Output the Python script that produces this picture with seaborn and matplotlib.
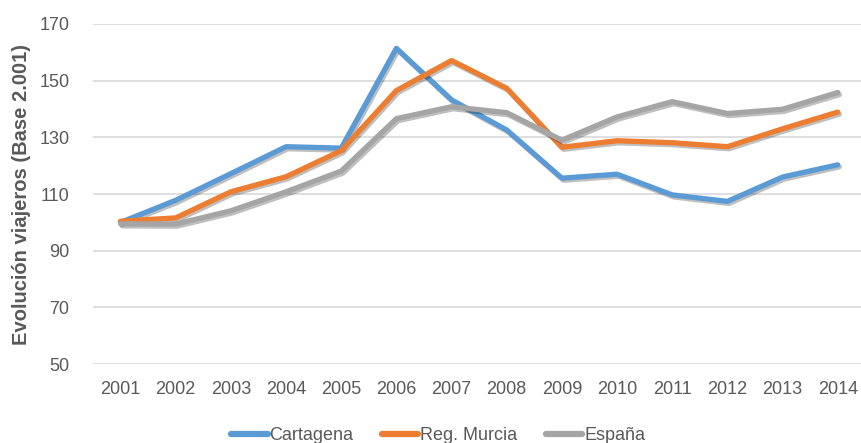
import numpy as np
import pandas as pd
import matplotlib
matplotlib.use('Agg')
import matplotlib.pyplot as plt
import matplotlib.patheffects as pe
import seaborn as sns

# ============ 数据 ============
years = ['2001', '2002', '2003', '2004', '2005', '2006', '2007',
         '2008', '2009', '2010', '2011', '2012', '2013', '2014']
cartagena = [100, 107.8, 117.2, 126.7, 126.2, 161.4, 143.2,
             132.6, 115.6, 117.0, 109.7, 107.4, 116.0, 120.3]
murcia = [100.4, 101.6, 110.8, 116.1, 125.3, 146.5, 157.1,
          147.3, 126.5, 128.8, 128.1, 126.7, 133.0, 138.9]
espana = [99.5, 99.4, 104.1, 110.8, 118.1, 136.6, 140.8,
          138.7, 129.0, 137.2, 142.6, 138.4, 139.9, 145.8]
series_names = ['Cartagena', 'Reg. Murcia', 'España']
colors = ['#5B9BD5', '#ED7D31', '#A5A5A5']

df = pd.DataFrame({'year': years * 3,
                   'valor': cartagena + murcia + espana,
                   'serie': np.repeat(series_names, len(years))})
df['x'] = np.tile(np.arange(len(years)), 3)

# ============ 样式 ============
sns.set_style('white')
plt.rcParams['font.family'] = ['Liberation Sans', 'DejaVu Sans']

fig = plt.figure(figsize=(8.61, 4.43), dpi=100)
ax = fig.add_axes([0.108, 0.178, 0.897, 0.768])

shadow = [pe.SimpleLineShadow(offset=(1.2, -1.5), shadow_color='black', alpha=0.25),
          pe.Normal()]
sns.lineplot(data=df, x='x', y='valor', hue='serie', palette=colors,
             linewidth=3.8, ax=ax, legend=False, estimator=None)
for line in ax.get_lines():
    line.set_path_effects(shadow)
    line.set_solid_capstyle('round')

ax.set_xlim(-0.5, 13.5)
ax.set_ylim(50, 170)
ax.set_yticks(range(50, 171, 20))
ax.set_xticks(range(len(years)))
ax.set_xticklabels(years)
ax.grid(axis='y', color='#D9D9D9', linewidth=1.2)
ax.set_axisbelow(True)
for s in ax.spines.values():
    s.set_visible(False)
ax.tick_params(axis='both', length=0, labelsize=13, labelcolor='#595959')
ax.tick_params(axis='y', pad=17)
ax.tick_params(axis='x', pad=12)

ax.set_xlabel('')
ax.set_ylabel('Evolución viajeros (Base 2.001)', fontsize=14.5, fontweight='bold',
              color='#595959', labelpad=6)

# 图例
handles = [plt.Line2D([], [], color=c, linewidth=4.5, solid_capstyle='round') for c in colors]
fig.legend(handles, series_names, loc='lower center', bbox_to_anchor=(0.509, -0.04),
           ncol=3, frameon=False, fontsize=13, handlelength=2.0, handletextpad=0.1,
           columnspacing=1.6, labelcolor='#595959')

fig.savefig('out.png', dpi=100)
